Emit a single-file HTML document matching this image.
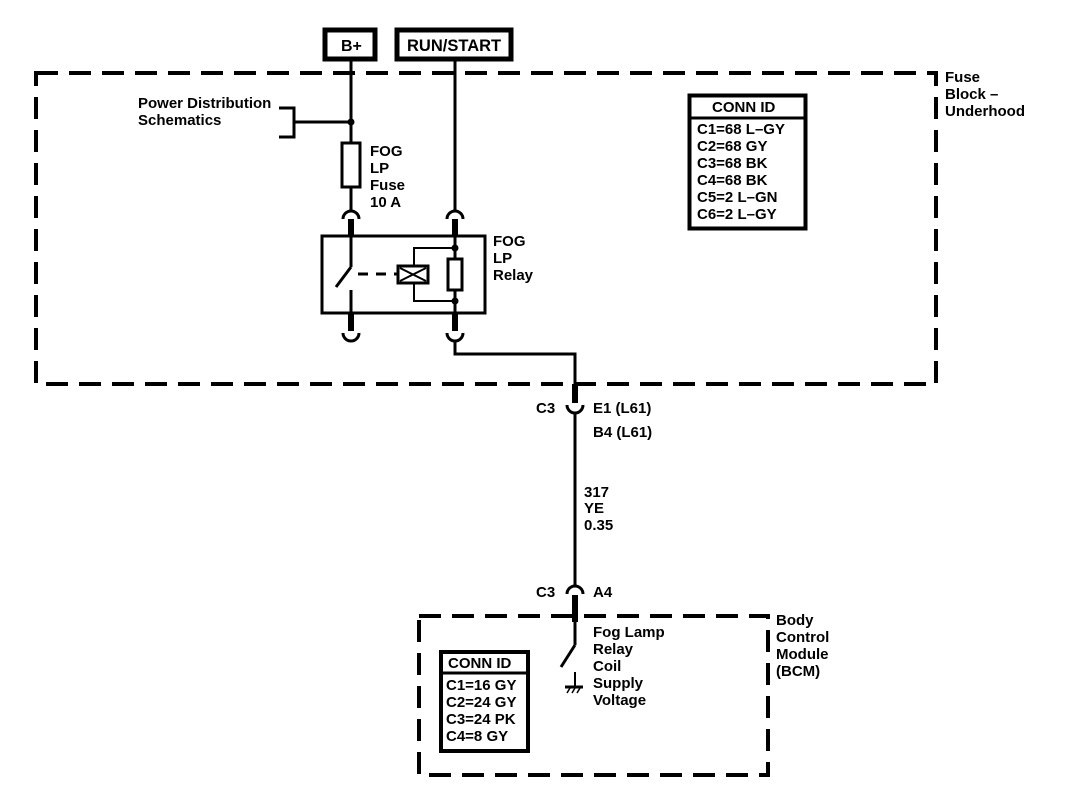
<!DOCTYPE html>
<html><head><style>
body{margin:0;background:#fff}
svg text{font-family:"Liberation Sans",Arial,sans-serif;font-size:15px;font-weight:bold;fill:#000}
</style></head><body>
<svg width="1072" height="802" viewBox="0 0 1072 802" xmlns="http://www.w3.org/2000/svg">
<g fill="none" stroke="#000">
<rect x="36" y="73" width="900" height="311" stroke-width="4" stroke-dasharray="22,11"/>
<rect x="419" y="616" width="349" height="159" stroke-width="4" stroke-dasharray="22,11"/>
<rect x="325" y="30" width="50" height="29" stroke-width="5"/>
<rect x="397" y="30" width="114" height="29" stroke-width="5"/>
<line x1="351" y1="60" x2="351" y2="143" stroke-width="3"/>
<line x1="351" y1="187" x2="351" y2="210" stroke-width="3"/>
<rect x="342" y="143" width="18" height="44" stroke-width="3"/>
<line x1="294" y1="122" x2="351" y2="122" stroke-width="3"/>
<polyline points="279,108 294,108 294,137 279,137" stroke-width="3"/>
<line x1="455" y1="60" x2="455" y2="210" stroke-width="3"/>
<path d="M343,219 A8,8 0 0 1 359,219" stroke-width="3"/>
<path d="M447,219 A8,8 0 0 1 463,219" stroke-width="3"/>
<line x1="351" y1="219" x2="351" y2="236" stroke-width="6"/>
<line x1="455" y1="219" x2="455" y2="236" stroke-width="6"/>
<rect x="322" y="236" width="163" height="77" stroke-width="3"/>
<line x1="351" y1="236" x2="351" y2="267" stroke-width="3"/>
<line x1="351" y1="267" x2="336" y2="287" stroke-width="3"/>
<line x1="351" y1="290" x2="351" y2="313" stroke-width="3"/>
<line x1="358" y1="274" x2="397" y2="274" stroke-width="3" stroke-dasharray="10,8"/>
<rect x="398" y="266" width="30" height="17" stroke-width="3"/>
<line x1="400" y1="268" x2="426" y2="281" stroke-width="2"/>
<line x1="400" y1="281" x2="426" y2="268" stroke-width="2"/>
<polyline points="414,266 414,248 455,248" stroke-width="2"/>
<polyline points="414,283 414,301 455,301" stroke-width="2"/>
<line x1="455" y1="236" x2="455" y2="259" stroke-width="3"/>
<line x1="455" y1="290" x2="455" y2="313" stroke-width="3"/>
<rect x="448" y="259" width="14" height="31" stroke-width="3"/>
<line x1="351" y1="313" x2="351" y2="331" stroke-width="6"/>
<line x1="455" y1="313" x2="455" y2="331" stroke-width="6"/>
<path d="M343,333 A8,8 0 0 0 359,333" stroke-width="3"/>
<path d="M447,333 A8,8 0 0 0 463,333" stroke-width="3"/>
<polyline points="455,341 455,354 575,354 575,400" stroke-width="3"/>
<line x1="575" y1="384" x2="575" y2="403" stroke-width="6"/>
<path d="M567,405 A8,8 0 0 0 583,405" stroke-width="3"/>
<line x1="575" y1="413" x2="575" y2="585" stroke-width="3"/>
<path d="M567,594 A8,8 0 0 1 583,594" stroke-width="3"/>
<line x1="575" y1="595" x2="575" y2="622" stroke-width="6"/>
<line x1="575" y1="620" x2="575" y2="645" stroke-width="3"/>
<line x1="575" y1="645" x2="561" y2="667" stroke-width="3"/>
<line x1="575" y1="672" x2="575" y2="687" stroke-width="2"/>
<line x1="565" y1="687" x2="583" y2="687" stroke-width="3"/>
<line x1="567" y1="693" x2="570" y2="688" stroke-width="1.5"/>
<line x1="572" y1="693" x2="575" y2="688" stroke-width="1.5"/>
<line x1="577" y1="693" x2="580" y2="688" stroke-width="1.5"/>
<rect x="689.5" y="95.5" width="116" height="133" stroke-width="4"/>
<line x1="689" y1="118" x2="806" y2="118" stroke-width="3"/>
<rect x="441" y="652" width="87" height="99" stroke-width="4"/>
<line x1="441" y1="673" x2="528" y2="673" stroke-width="3"/>
</g>
<g fill="#000">
<circle cx="351" cy="122" r="3.5"/>
<circle cx="455" cy="248" r="3.5"/>
<circle cx="455" cy="301" r="3.5"/>
</g>
<text x="341" y="51" style="font-size:16px">B+</text>
<text x="407" y="51" style="font-size:16.5px">RUN/START</text>
<text x="138" y="108">Power Distribution</text>
<text x="138" y="125">Schematics</text>
<text x="370" y="156">FOG</text><text x="370" y="173">LP</text><text x="370" y="190">Fuse</text><text x="370" y="207">10 A</text>
<text x="493" y="246">FOG</text><text x="493" y="263">LP</text><text x="493" y="280">Relay</text>
<text x="945" y="82">Fuse</text><text x="945" y="99">Block –</text><text x="945" y="116">Underhood</text>
<text x="712" y="112">CONN ID</text>
<text x="697" y="134">C1=68 L–GY</text><text x="697" y="151">C2=68 GY</text><text x="697" y="168">C3=68 BK</text><text x="697" y="185">C4=68 BK</text><text x="697" y="202">C5=2 L–GN</text><text x="697" y="219">C6=2 L–GY</text>
<text x="536" y="413">C3</text><text x="593" y="413">E1 (L61)</text><text x="593" y="437">B4 (L61)</text>
<text x="584" y="497">317</text><text x="584" y="513">YE</text><text x="584" y="530">0.35</text>
<text x="536" y="597">C3</text><text x="593" y="597">A4</text>
<text x="593" y="637">Fog Lamp</text><text x="593" y="654">Relay</text><text x="593" y="671">Coil</text><text x="593" y="688">Supply</text><text x="593" y="705">Voltage</text>
<text x="776" y="625">Body</text><text x="776" y="642">Control</text><text x="776" y="659">Module</text><text x="776" y="676">(BCM)</text>
<text x="448" y="668">CONN ID</text>
<text x="446" y="690">C1=16 GY</text><text x="446" y="707">C2=24 GY</text><text x="446" y="724">C3=24 PK</text><text x="446" y="741">C4=8 GY</text>
</svg>
</body></html>
